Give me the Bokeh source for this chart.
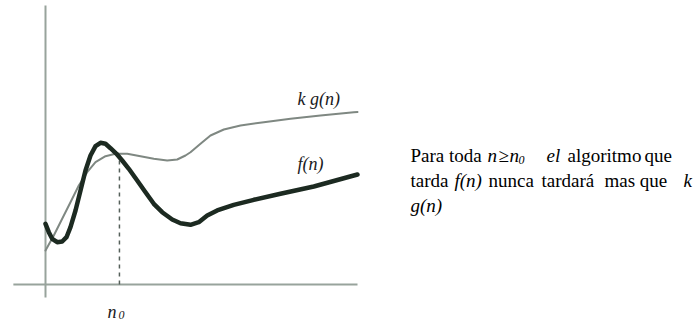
from bokeh.plotting import figure
from bokeh.models import Range1d
from bokeh.core.properties import value
from bokeh.embed import file_html
from bokeh.resources import INLINE

# --- data: running time of the algorithm f(n) and the bound k*g(n) ---
n_f = [0.000, 0.106, 0.215, 0.375, 0.535, 0.673, 0.801, 0.962, 1.122, 1.282,
       1.442, 1.603, 1.763, 1.923, 2.083, 2.276, 2.458, 2.670, 2.939, 3.205,
       3.471, 3.740, 4.061, 4.327, 4.647, 4.913, 5.183, 5.503, 6.035, 6.676,
       7.532, 8.599, 9.881, 10.000]
f_vals = [2.137, 1.842, 1.609, 1.489, 1.514, 1.665, 2.018, 2.606, 3.310, 4.014,
          4.542, 4.870, 4.989, 4.954, 4.799, 4.602, 4.366, 4.074, 3.662, 3.250,
          2.842, 2.546, 2.289, 2.158, 2.102, 2.194, 2.430, 2.606, 2.806, 2.982,
          3.194, 3.451, 3.838, 3.873]

n_g = [0.000, 0.266, 0.535, 0.801, 1.067, 1.337, 1.603, 1.923, 2.244, 2.619,
       3.045, 3.471, 3.901, 4.221, 4.487, 4.647, 4.968, 5.288, 5.715, 6.250,
       6.997, 7.853, 8.814, 9.881, 10.000]
kg_vals = [1.197, 1.725, 2.313, 2.898, 3.486, 3.954, 4.306, 4.518, 4.602, 4.602,
           4.518, 4.426, 4.366, 4.401, 4.542, 4.658, 4.954, 5.246, 5.458, 5.599,
           5.715, 5.835, 5.951, 6.067, 6.074]

n0 = 2.37          # threshold where f(n) falls below k*g(n)
kg_at_n0 = 4.55

x_axis_span = [-1.03, 10.0]
y_axis_span = [-0.46, 9.82]

# --- canvas geometry: origin of the sketch axes on the page ---
W, H = 694, 322
ORIGIN_X, ORIGIN_Y = 45, 284
PX_PER_X, PX_PER_Y = 31.2, 28.4
TEXT_LIFT = 6   # the text glyph sits a little below the requested baseline


def to_data(px, py):
    return (px - ORIGIN_X) / PX_PER_X, (ORIGIN_Y - py) / PX_PER_Y


p = figure(width=W, height=H, output_backend="svg", toolbar_location=None,
           x_range=Range1d(-ORIGIN_X / PX_PER_X, (W - ORIGIN_X) / PX_PER_X),
           y_range=Range1d(-(H - ORIGIN_Y) / PX_PER_Y, ORIGIN_Y / PX_PER_Y),
           min_border=0, outline_line_color=None)
p.axis.visible = False
p.grid.visible = False
p.background_fill_color = "white"
p.border_fill_color = "white"

AXIS_COLOR = "#98a39c"
# hand-drawn style axes
p.line(x_axis_span, [0, 0], line_color=AXIS_COLOR, line_width=2)
p.line([0, 0], y_axis_span, line_color=AXIS_COLOR, line_width=2)

# dashed marker at n0
p.line([n0, n0], [0, kg_at_n0], line_color="#55605a", line_width=1.5,
       line_dash="4 4")

# k g(n): thin grey curve
p.line(n_g, kg_vals, line_color="#7f8882", line_width=2, line_join="round",
       line_cap="round")
# f(n): thick dark curve
p.line(n_f, f_vals, line_color="#1c2a21", line_width=4.5, line_join="round",
       line_cap="round")

SERIF = "Liberation Serif"


def put(text, px, py, size="19px", style="normal", color="#000000"):
    x, y = to_data(px, py - TEXT_LIFT)
    p.text(x=[x], y=[y], text=[text], text_font=value(SERIF),
           text_font_size=size, text_font_style=style, text_color=color,
           text_align="left", text_baseline="alphabetic")


# curve labels
put("k g(n)", 297, 104, size="18px", style="italic", color="#1a1a22")
put("f(n)", 297, 169, size="18px", style="italic", color="#1a1a22")
put("n", 107, 317, size="18px", style="italic", color="#1a1a22")
put("0", 118, 320, size="12px", style="italic", color="#1a1a22")

# explanatory text on the right
put("Para toda", 410, 161)
put("n", 487, 161, style="italic")
put("≥", 498, 161)
put("n", 509, 161, style="italic")
put("0", 518, 165, size="12px", style="italic")
put("el", 546, 161, style="italic")
put("algoritmo", 567, 161)
put("que", 644, 161)

put("tarda", 410, 186)
put("f(n)", 454, 186, style="italic")
put("nunca", 488, 186)
put("tardará", 541, 186)
put("mas que", 604, 186)
put("k", 683, 186, style="italic")

put("g(n)", 410, 211, style="italic")

open("out.html", "w").write(file_html(p, INLINE))
